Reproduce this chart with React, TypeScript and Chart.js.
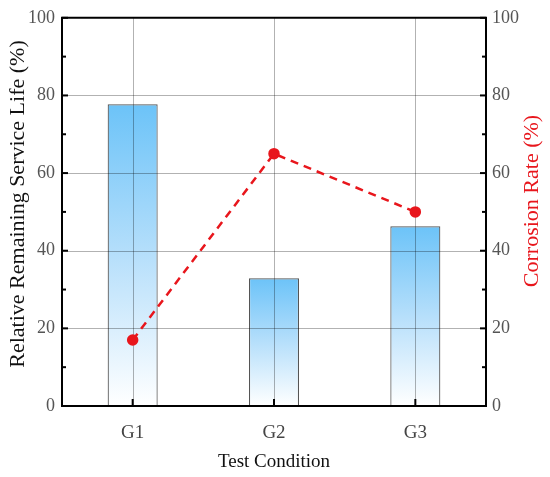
import React, { useEffect, useRef } from "react";
import { Chart, registerables } from "chart.js";

Chart.register(...registerables);

const categories = ["G1", "G2", "G3"];
const serviceLife = [77.7, 32.9, 46.3];
const corrosionRate = [17.0, 65.0, 50.0];
const yTicksMajor = [0, 20, 40, 60, 80, 100];
const yTicksMinor = [10, 30, 50, 70, 90];
const leftTitle = "Relative Remaining Service Life (%)";
const rightTitle = "Corrosion Rate (%)";
const xTitle = "Test Condition";

const SERIF = "'Liberation Serif', 'Times New Roman', serif";
const RED = "#e8161c";

const framePlugin = {
  id: "framePlugin",
  afterDatasetDraw(chart: any, args: any) {
    if (args.index !== 0) return;
    const { ctx, chartArea } = chart;
    const x = chart.scales.x;
    const y = chart.scales.y;
    ctx.save();
    ctx.strokeStyle = "rgba(0,0,0,0.3)";
    ctx.lineWidth = 1;
    yTicksMajor.forEach((v) => {
      if (v === 0 || v === 100) return;
      const py = Math.round(y.getPixelForValue(v)) + 0.5;
      ctx.beginPath();
      ctx.moveTo(chartArea.left, py);
      ctx.lineTo(chartArea.right, py);
      ctx.stroke();
    });
    categories.forEach((_, i) => {
      const px = Math.round(x.getPixelForValue(i)) + 0.5;
      ctx.beginPath();
      ctx.moveTo(px, chartArea.top);
      ctx.lineTo(px, chartArea.bottom);
      ctx.stroke();
    });
    ctx.restore();
  },
  afterDraw(chart: any) {
    const { ctx, chartArea } = chart;
    const { left, right, top, bottom } = chartArea;
    const x = chart.scales.x;
    const y = chart.scales.y;
    const y1 = chart.scales.y1;
    ctx.save();
    ctx.strokeStyle = "#000";
    ctx.lineWidth = 2;
    ctx.beginPath();
    ctx.moveTo(left, top);
    ctx.lineTo(right, top);
    ctx.lineTo(right, bottom);
    ctx.lineTo(left, bottom);
    ctx.closePath();
    ctx.stroke();
    const drawTicks = (vals: number[], len: number) => {
      vals.forEach((v) => {
        const py = y.getPixelForValue(v);
        ctx.beginPath();
        ctx.moveTo(left, py);
        ctx.lineTo(left + len, py);
        ctx.stroke();
        const py1 = y1.getPixelForValue(v);
        ctx.beginPath();
        ctx.moveTo(right, py1);
        ctx.lineTo(right - len, py1);
        ctx.stroke();
      });
    };
    drawTicks(yTicksMajor, 6);
    drawTicks(yTicksMinor, 4);
    categories.forEach((_, i) => {
      const px = x.getPixelForValue(i);
      ctx.beginPath();
      ctx.moveTo(px, bottom);
      ctx.lineTo(px, bottom - 7);
      ctx.stroke();
    });

    // axis titles (both read bottom-to-top)
    ctx.font = `22px ${SERIF}`;
    ctx.textAlign = "center";
    ctx.textBaseline = "middle";
    ctx.save();
    ctx.translate(18, 204);
    ctx.rotate(-Math.PI / 2);
    ctx.fillStyle = "#111";
    ctx.fillText(leftTitle, 0, 0);
    ctx.restore();
    ctx.save();
    ctx.translate(532, 201);
    ctx.rotate(-Math.PI / 2);
    ctx.fillStyle = RED;
    ctx.fillText(rightTitle, 0, 0);
    ctx.restore();
    ctx.restore();
  },
};

export default function App() {
  const canvasRef = useRef<HTMLCanvasElement | null>(null);

  useEffect(() => {
    if (!canvasRef.current) return;
    const chart = new Chart(canvasRef.current, {
      type: "bar",
      data: {
        labels: categories,
        datasets: [
          {
            type: "bar",
            label: "Relative Remaining Service Life",
            data: serviceLife,
            yAxisID: "y",
            order: 2,
            barPercentage: 0.354,
            categoryPercentage: 1,
            borderColor: "#555",
            borderWidth: 1.2,
            backgroundColor: (c: any) => {
              const ch = c.chart;
              if (c.type !== "data" || !ch.chartArea) return "#72c6f8";
              const ys = ch.scales.y;
              const t = ys.getPixelForValue(c.raw);
              const b = ys.getPixelForValue(0);
              const g = ch.ctx.createLinearGradient(0, t, 0, b);
              g.addColorStop(0, "#6cc3f8");
              g.addColorStop(0.5, "#b6dffb");
              g.addColorStop(1, "#ffffff");
              return g;
            },
          } as any,
          {
            type: "line",
            label: "Corrosion Rate",
            data: corrosionRate,
            yAxisID: "y1",
            order: 1,
            borderColor: RED,
            borderWidth: 2.5,
            borderDash: [8, 6],
            pointRadius: 4.5,
            pointBackgroundColor: RED,
            pointBorderColor: RED,
            fill: false,
            tension: 0,
            clip: false,
          } as any,
        ],
      },
      options: {
        animation: false,
        responsive: false,
        maintainAspectRatio: false,
        layout: { padding: { top: 13, left: 0, right: 0, bottom: 0 } },
        plugins: {
          legend: { display: false },
          tooltip: { enabled: false },
        },
        scales: {
          x: {
            type: "category",
            grid: { display: false, drawTicks: false },
            border: { display: false },
            ticks: {
              font: { family: SERIF, size: 19 },
              color: "#444",
              padding: 16,
            },
            title: {
              display: true,
              text: xTitle,
              font: { family: SERIF, size: 19 },
              color: "#111",
              padding: { top: 0, bottom: 4 },
            },
            afterFit: (s: any) => {
              s.height = 71;
            },
          },
          y: {
            position: "left",
            min: 0,
            max: 100,
            grid: { display: false, drawTicks: false },
            border: { display: false },
            ticks: {
              stepSize: 20,
              font: { family: SERIF, size: 18 },
              color: "#555",
              padding: 7,
            },
            title: { display: false },
            afterFit: (s: any) => {
              s.width = 62;
            },
          },
          y1: {
            position: "right",
            min: 0,
            max: 100,
            grid: { display: false, drawTicks: false },
            border: { display: false },
            ticks: {
              stepSize: 20,
              font: { family: SERIF, size: 18 },
              color: "#555",
              padding: 6,
            },
            title: { display: false },
            afterFit: (s: any) => {
              s.width = 64;
            },
          },
        },
      } as any,
      plugins: [framePlugin],
    });
    return () => chart.destroy();
  }, []);

  return (
    <div style={{ position: "absolute", left: 0, top: 0, width: 550, height: 477, background: "#fff" }}>
      <canvas ref={canvasRef} width={550} height={477} style={{ width: 550, height: 477, display: "block" }} />
    </div>
  );
}
